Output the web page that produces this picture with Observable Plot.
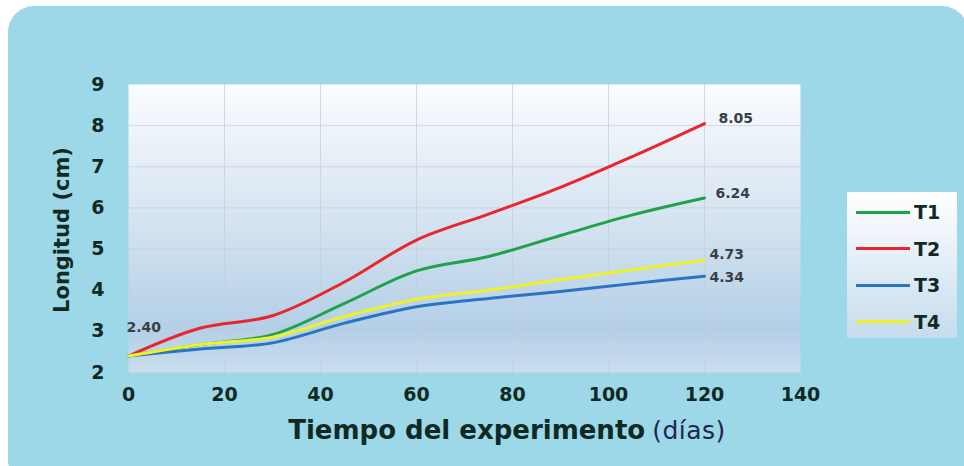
<!DOCTYPE html>
<html>
<head>
<meta charset="utf-8">
<script src="https://cdn.jsdelivr.net/npm/d3@7"></script>
<script src="https://cdn.jsdelivr.net/npm/@observablehq/plot@0.6"></script>
<style>
  body { margin: 0; background: #ffffff; }
  #wrap { position: relative; width: 964px; height: 466px; overflow: hidden; }
  #card { position: absolute; left: 8px; top: 6px; width: 960px; height: 480px;
          border-radius: 26px; background: #9cd8e8; }
  #chart { position: absolute; left: 0; top: 0; }
  #ylabel { position: absolute; left: 62px; top: 230px; transform: translate(-50%, -50%) rotate(-90deg);
            font: bold 21px "DejaVu Sans", sans-serif; color: #0f2a25; white-space: nowrap; }
  #xlabel { position: absolute; left: 507px; top: 430px; transform: translate(-50%, -50%);
            white-space: nowrap; color: #0f2a25; }
  #xlabel .main { font: bold 26px "DejaVu Sans", sans-serif; }
  #xlabel .unit { font: 25px "DejaVu Sans", sans-serif; color: #1d2650; margin-left: 7px; letter-spacing: 0.5px; }
  #legend { position: absolute; left: 847px; top: 192px; width: 110px; height: 146px;
            background: linear-gradient(#ffffff, #c6dbec); }
  .item { position: absolute; left: 9px; height: 20px; display: flex; align-items: center; }
  .item .sw { width: 54px; height: 3px; margin-right: 4px; }
  .item .lab { font: bold 19px "DejaVu Sans", sans-serif; color: #0f2a25; }
</style>
</head>
<body>
<div id="wrap">
  <div id="card"></div>
  <div id="chart"></div>
  <div id="ylabel">Longitud (cm)</div>
  <div id="xlabel"><span class="main">Tiempo del experimento</span><span class="unit">(días)</span></div>
  <div id="legend"></div>
</div>
<script>
// Days of measurement
const days = [0, 15, 30, 45, 60, 75, 90, 105, 120];

// Length (cm) per treatment
const t1 = [2.40, 2.68, 2.92, 3.68, 4.47, 4.82, 5.33, 5.83, 6.24];
const t2 = [2.40, 3.08, 3.38, 4.20, 5.22, 5.85, 6.50, 7.25, 8.05];
const t3 = [2.40, 2.57, 2.72, 3.20, 3.60, 3.80, 3.97, 4.16, 4.34];
const t4 = [2.40, 2.68, 2.86, 3.36, 3.78, 4.00, 4.26, 4.50, 4.73];

const seriesNames = ["T1", "T2", "T3", "T4"];
const seriesValues = [t1, t2, t3, t4];
const seriesColors = ["#1fa24b", "#e8262d", "#2a74c4", "#eef22a"];

const xTicks = [0, 20, 40, 60, 80, 100, 120, 140];
const yTicks = [2, 3, 4, 5, 6, 7, 8, 9];

const rows = seriesNames.flatMap((name, i) =>
  days.map((d, j) => ({series: name, day: d, value: seriesValues[i][j]}))
);
const ends = rows.filter(d => d.day === days[days.length - 1]);
const start = rows.filter(d => d.day === days[0] && d.series === "T2");

const fmt = d3.format(".2f");
// label nudges for the end-of-line values
const endOffsets = {T1: [11, -5], T2: [14, -5], T3: [5, 1], T4: [5, -6]};

const tickFont = {fontSize: 19, fontWeight: "bold", fontFamily: "DejaVu Sans, sans-serif", fill: "#0f2a25"};
const valueFont = {fontSize: 14, fontWeight: "bold", fontFamily: "DejaVu Sans, sans-serif", fill: "#3a3f47"};

const plot = Plot.plot({
  width: 964,
  height: 466,
  marginLeft: 128,
  marginRight: 164,
  marginTop: 84,
  marginBottom: 94,
  style: {background: "transparent", overflow: "visible"},
  x: {domain: [0, 140]},
  y: {domain: [2, 9]},
  color: {domain: seriesNames, range: seriesColors},
  marks: [
    Plot.frame({fill: "url(#plotBg)", stroke: "none"}),
    Plot.gridX(xTicks.slice(1, -1), {stroke: "#c8cfda", strokeOpacity: 0.8, strokeWidth: 1}),
    Plot.gridY(yTicks.slice(1, -1), {stroke: "#c8cfda", strokeOpacity: 0.8, strokeWidth: 1}),
    Plot.axisX({ticks: xTicks, tickFormat: d3.format("d"), tickSize: 0, tickPadding: 15, label: null, ...tickFont}),
    Plot.axisY({ticks: yTicks, tickFormat: d3.format("d"), tickSize: 0, tickPadding: 24, label: null, ...tickFont}),
    Plot.line(rows, {x: "day", y: "value", z: "series", stroke: "series",
                     strokeWidth: 3, curve: "catmull-rom"}),
    ...seriesNames.map(name =>
      Plot.text(ends.filter(d => d.series === name), {
        x: "day", y: "value", text: d => fmt(d.value),
        dx: endOffsets[name][0], dy: endOffsets[name][1], textAnchor: "start", ...valueFont
      })
    ),
    Plot.text(start, {
      x: "day", y: "value", text: d => fmt(d.value), dx: -2, dy: -29, textAnchor: "start", ...valueFont
    })
  ]
});

// vertical wash behind the plotting area
const ns = "http://www.w3.org/2000/svg";
const defs = document.createElementNS(ns, "defs");
defs.innerHTML = `<linearGradient id="plotBg" x1="0" y1="0" x2="0" y2="1">
  <stop offset="0" stop-color="#fbfcfe"/>
  <stop offset="0.5" stop-color="#d3e2f0"/>
  <stop offset="0.85" stop-color="#b3cfe7"/>
  <stop offset="1" stop-color="#cadeee"/>
</linearGradient>`;
plot.insertBefore(defs, plot.firstChild);
document.getElementById("chart").appendChild(plot);

// legend
const legend = document.getElementById("legend");
seriesNames.forEach((name, i) => {
  const item = document.createElement("div");
  item.className = "item";
  item.style.top = (10 + i * 36.5) + "px";
  item.innerHTML = `<span class="sw" style="background:${seriesColors[i]}"></span><span class="lab">${name}</span>`;
  legend.appendChild(item);
});
</script>
</body>
</html>
